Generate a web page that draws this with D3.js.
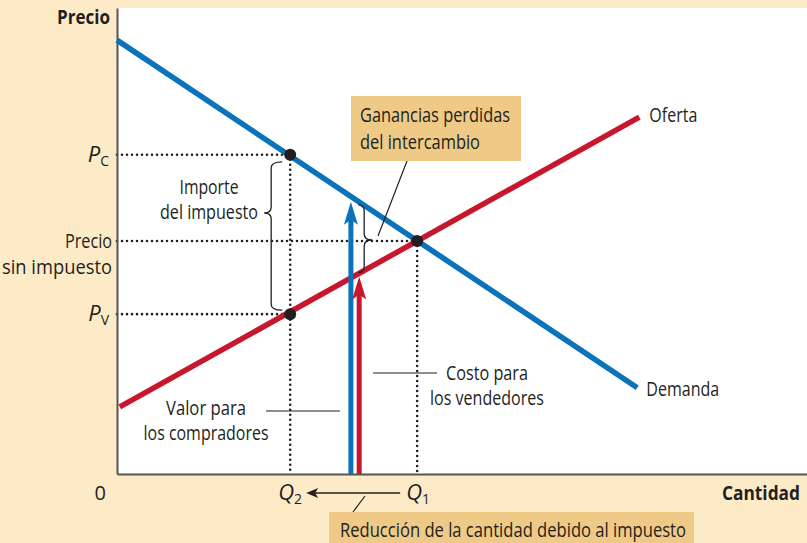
<!DOCTYPE html>
<html>
<head>
<meta charset="utf-8">
<style>
  body { margin: 0px; background: #fdebc8; }
  text { font-family: 'Open Sans', sans-serif; fill: #231f20; }
</style>
</head>
<body>
<script src="https://cdn.jsdelivr.net/npm/d3@7"></script>
<script>

// *** DATA ***

// curve end points [cantidad, precio]
var demanda = [[0, 93.1], [75.4, 18.5]];
var oferta  = [[0.4, 14.4], [75.7, 76.6]];

// equilibrium points
var q1 = 43.5, q2 = 25.1;
var pSin = 50, pC = 68.5, pV = 34.3;
var puntos = [[q2, pC], [q1, pSin], [q2, pV]];

// the two vertical arrows at the reduced quantity
var flechas = [
  {q: 33.9, p: 58.4, color: '#0a73ba'},
  {q: 35.1, p: 42.4, color: '#c8172c'}
];

// *** SETUP ***

var W = 807, H = 543;
var blue = '#0a73ba', red = '#c8172c', ink = '#231f20', boxFill = '#efca86';

var x = d3.scaleLinear().domain([0, 100]).range([117, 807]);
var y = d3.scaleLinear().domain([0, 100]).range([474, 8]);

var svg = d3.select('body').append('svg')
  .attr('width', W)
  .attr('height', H);

// plot area
svg.append('rect')
  .attr('x', x(0)).attr('y', y(100))
  .attr('width', x(100) - x(0)).attr('height', y(0) - y(100))
  .style('fill', '#fff');

// dotted guides
var dotted = [
  [[0, pC], [q2, pC]],
  [[0, pSin], [q1, pSin]],
  [[0, pV], [q2, pV]],
  [[q2, pC], [q2, 0]],
  [[q1, pSin], [q1, 0]]
];
svg.selectAll('line.guide').data(dotted).enter().append('line')
  .attr('class', 'guide')
  .attr('x1', function(d){ return x(d[0][0]); })
  .attr('y1', function(d){ return y(d[0][1]); })
  .attr('x2', function(d){ return x(d[1][0]); })
  .attr('y2', function(d){ return y(d[1][1]); })
  .style('stroke', ink)
  .style('stroke-width', 2.6)
  .style('stroke-linecap', 'round')
  .style('stroke-dasharray', '0 5');

// axes (lines only)
svg.append('g').attr('transform', 'translate(' + x(0) + ',0)')
  .call(d3.axisLeft(y).tickValues([]).tickSizeOuter(0))
  .select('.domain').style('stroke', '#555').style('stroke-width', 2);
svg.append('g').attr('transform', 'translate(0,' + y(0) + ')')
  .call(d3.axisBottom(x).tickValues([]).tickSizeOuter(0))
  .select('.domain').style('stroke', '#555').style('stroke-width', 2);

// demand & supply
var line = d3.line().x(function(d){ return x(d[0]); }).y(function(d){ return y(d[1]); });
svg.append('path').attr('d', line(oferta))
  .style('fill', 'none').style('stroke', red).style('stroke-width', 5.5);
svg.append('path').attr('d', line(demanda))
  .style('fill', 'none').style('stroke', blue).style('stroke-width', 5.5);

// vertical arrows
flechas.forEach(function(f){
  var fx = x(f.q), fy = y(f.p);
  svg.append('line')
    .attr('x1', fx).attr('x2', fx)
    .attr('y1', y(0)).attr('y2', fy + 14)
    .style('stroke', f.color).style('stroke-width', 5);
  svg.append('path')
    .attr('d', 'M' + fx + ',' + fy + ' L' + (fx - 7) + ',' + (fy + 23) +
               ' L' + fx + ',' + (fy + 18) + ' L' + (fx + 7) + ',' + (fy + 23) + ' Z')
    .style('fill', f.color);
});

// black dots
svg.selectAll('circle').data(puntos).enter().append('circle')
  .attr('cx', function(d){ return x(d[0]); })
  .attr('cy', function(d){ return y(d[1]); })
  .attr('r', 6)
  .style('fill', ink);

// braces
function brace(x0, spine, tip, y1, ym, y2){
  var s = spine, r = 6;
  return 'M' + x0 + ',' + y1 +
    ' Q' + s + ',' + y1 + ' ' + s + ',' + (y1 + r) +
    ' L' + s + ',' + (ym - r) +
    ' Q' + s + ',' + ym + ' ' + tip + ',' + ym +
    ' Q' + s + ',' + ym + ' ' + s + ',' + (ym + r) +
    ' L' + s + ',' + (y2 - r) +
    ' Q' + s + ',' + y2 + ' ' + x0 + ',' + y2;
}
svg.append('path')
  .attr('d', brace(x(q2) - 8, x(q2) - 19, x(q2) - 26, y(pC) + 7, 213, y(pV) - 4))
  .style('fill', 'none').style('stroke', ink).style('stroke-width', 1.3);
svg.append('path')
  .attr('d', brace(x(flechas[1].q) - 1, x(flechas[1].q) + 5, x(flechas[1].q) + 13, y(flechas[0].p) + 3, 240, y(flechas[1].p) - 4))
  .style('fill', 'none').style('stroke', ink).style('stroke-width', 1.3);

// leader lines
var leaders = [
  [378, 236, 407, 161],
  [266, 411, 340, 411],
  [373, 373, 437, 373],
  [365, 496, 353, 512]
];
svg.selectAll('line.leader').data(leaders).enter().append('line')
  .attr('class', 'leader')
  .attr('x1', function(d){ return d[0]; }).attr('y1', function(d){ return d[1]; })
  .attr('x2', function(d){ return d[2]; }).attr('y2', function(d){ return d[3]; })
  .style('stroke', ink).style('stroke-width', 1.2);

// Q1 -> Q2 arrow
svg.append('line')
  .attr('x1', x(q1) - 17).attr('x2', x(q2) + 24)
  .attr('y1', 493).attr('y2', 493)
  .style('stroke', ink).style('stroke-width', 1.4);
svg.append('path')
  .attr('d', 'M' + (x(q2) + 16) + ',493 L' + (x(q2) + 28) + ',488 L' + (x(q2) + 25) + ',493 L' + (x(q2) + 28) + ',498 Z')
  .style('fill', ink);

// boxes
svg.append('rect').attr('x', 351).attr('y', 96).attr('width', 170).attr('height', 65).style('fill', boxFill);
svg.append('rect').attr('x', 329).attr('y', 512).attr('width', 365).attr('height', 31).style('fill', boxFill);

// *** TEXT ***

// the original face is condensed, so each label is squeezed to its measured width
function label(tx, ty, s, anchor, width, size, weight){
  var t = svg.append('text')
    .attr('x', tx).attr('y', ty)
    .style('text-anchor', anchor || 'start')
    .style('font-size', (size || 20) + 'px')
    .style('font-weight', weight || 'normal')
    .text(s);
  if (width) t.attr('textLength', width).attr('lengthAdjust', 'spacingAndGlyphs');
  return t;
}

label(110, 24, 'Precio', 'end', 53, 19, 'bold');
label(800, 500, 'Cantidad', 'end', 78, 20, 'bold');
label(106, 500, '0', 'end');

label(112, 248, 'Precio', 'end', 47);
label(112, 274, 'sin impuesto', 'end', 110);
label(209, 194, 'Importe', 'middle', 59);
label(209, 219, 'del impuesto', 'middle', 98);
label(206, 415, 'Valor para', 'middle', 80);
label(206, 440, 'los compradores', 'middle', 125);
label(446, 380, 'Costo para', 'start', 82);
label(430, 405, 'los vendedores', 'start', 114);
label(x(oferta[1][0]) + 10, 122, 'Oferta', 'start', 48);
label(x(demanda[1][0]) + 9, 396, 'Demanda', 'start', 73);
label(360, 122, 'Ganancias perdidas', 'start', 150);
label(360, 149, 'del intercambio', 'start', 120);
label(340, 537, 'Reducción de la cantidad debido al impuesto', 'start', 346);

// P and Q labels with subscripts
function sub(tx, ty, main, s, anchor){
  var t = svg.append('text')
    .attr('x', tx).attr('y', ty)
    .style('text-anchor', anchor)
    .style('font-size', '22px');
  t.append('tspan').style('font-style', 'italic').text(main);
  t.append('tspan').attr('dy', 4).style('font-size', '14px').text(s);
  return t;
}
sub(109, y(pC) + 7, 'P', 'C', 'end');
sub(109, y(pV) + 7, 'P', 'V', 'end');
sub(x(q2), 500, 'Q', '2', 'middle');
sub(x(q1) + 1, 500, 'Q', '1', 'middle');

</script>
</body>
</html>
